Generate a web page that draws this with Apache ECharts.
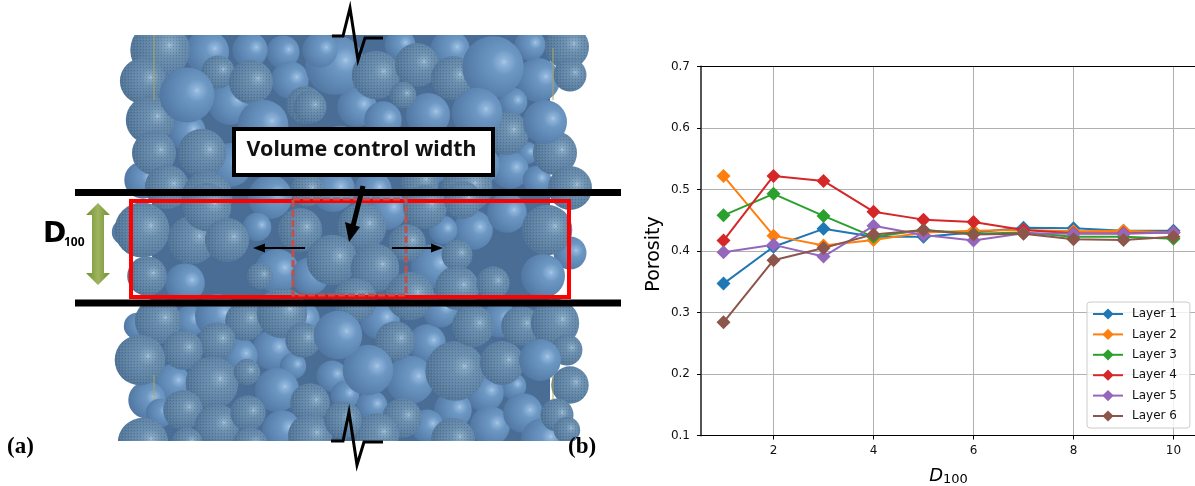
<!DOCTYPE html>
<html><head><meta charset="utf-8">
<style>html,body{margin:0;padding:0;background:#fff}#c{width:1195px;height:486px}</style>
<script src="https://cdn.jsdelivr.net/npm/echarts@6/dist/echarts.min.js"></script>
</head><body><div id="c"></div>
<script>
const dValues = [1,2,3,4,5,6,7,8,9,10];
const xTicks = [2,4,6,8,10];
const layer1 = [0.347,0.407,0.436,0.423,0.423,0.430,0.438,0.437,0.433,0.433];
const layer2 = [0.522,0.425,0.409,0.418,0.430,0.433,0.434,0.432,0.433,0.430];
const layer3 = [0.458,0.493,0.457,0.423,0.434,0.428,0.430,0.423,0.423,0.420];
const layer4 = [0.417,0.522,0.514,0.464,0.451,0.447,0.434,0.429,0.429,0.430];
const layer5 = [0.398,0.410,0.391,0.441,0.426,0.417,0.429,0.428,0.428,0.430];
const layer6 = [0.284,0.385,0.405,0.427,0.434,0.427,0.428,0.419,0.418,0.423];
const layerNames = ['Layer 1','Layer 2','Layer 3','Layer 4','Layer 5','Layer 6'];
const layerColors = ['#1f77b4','#ff7f0e','#2ca02c','#d62728','#9467bd','#8c564b'];
const layers = [layer1,layer2,layer3,layer4,layer5,layer6];

// illustration: spheres as [x, y, radius] in the picture's own units
const plainSpheres = [
[207,52,20],[283,52,15],[230,103,20],[290,80,17],[187,132,17],[143,180,17],
[270,197,20],[335,65,27],[450,50,18],[538,80,20],[357,107,18],[383,120,17],[428,115,20],
[513,102,13],[527,153,10],[510,170,17],[537,180,13],[333,190,20],[373,190,17],
[387,210,18],[473,230,18],[507,213,18],[443,230,13],[257,227,13],[277,271,20],[185,283,18],[310,276,17],
[433,266,20],[137,326,12],[190,321,14],[217,316,20],[272,350,18],[240,356,16],[172,383,17],
[293,366,12],[277,390,20],[147,400,17],[160,413,13],[282,430,18],[427,343,17],
[410,380,22],[513,386,12],[485,393,17],[332,376,14],[345,395,13],[372,406,14],[453,410,17],
[490,426,18],[523,413,18],[427,426,15],[543,440,20],[570,253,15],[125,232,12],[300,155,22],[340,150,22],
[390,150,20],[430,160,22],[230,165,20],[480,165,18],[300,320,18],[380,320,18],[440,310,16],[500,320,16],[320,50,16],[250,50,16],[400,45,14],[530,45,14]
];
const meshSpheres = [
[160,50,27],[143,81,21],[218,72,15],[251,82,20],[150,120,22],[154,153,20],[202,153,22],[305,105,17],
[167,187,20],[207,197,23],[307,190,15],[376,75,22],[417,65,20],[453,78,20],[567,47,20],[570,75,15],
[403,95,12],[310,107,15],[507,133,20],[555,153,20],[570,188,20],[467,187,23],[420,182,17],[362,227,22],
[425,207,20],[547,230,23],[463,200,17],[407,243,17],[142,230,25],[192,240,22],[207,207,22],[300,230,20],
[227,240,20],[147,276,18],[260,276,12],[332,260,23],[375,268,22],[457,255,14],[457,288,20],[493,283,15],
[410,296,22],[355,300,20],[158,321,21],[245,321,18],[282,313,23],[303,340,16],[217,341,17],[183,350,18],
[140,360,23],[212,383,24],[247,372,12],[183,410,18],[217,426,20],[248,413,16],[310,403,18],[143,443,23],
[187,443,14],[250,445,16],[395,341,18],[455,371,27],[473,326,19],[502,363,20],[521,326,18],[555,323,22],
[567,350,14],[570,385,17],[402,418,18],[557,415,15],[453,440,20],[377,435,20],[310,436,20],[567,430,12],[343,420,17]
];
const frontSpheres = [
[187,95,25],[493,67,28],[263,125,23],[477,113,23],[368,370,23],[338,335,22],[543,276,20],[545,122,20],[540,360,19]
];
const sphereGrow = 1.1;

const dots = document.createElement('canvas');
dots.width = 3; dots.height = 3;
(function(){
  const g = dots.getContext('2d');
  g.fillStyle = 'rgba(150,175,130,.3)'; g.fillRect(0,0,1,1);
  g.fillStyle = 'rgba(35,50,80,.25)'; g.fillRect(2,1,1,1);
})();

const plainFill = {type:'radial',x:.68,y:.42,r:.8,colorStops:[
  {offset:0,color:'#a8c8e6'},{offset:.07,color:'#8fb4da'},{offset:.25,color:'#6e98c4'},{offset:.6,color:'#5c85b1'},{offset:1,color:'#4b6f99'}]};
const meshFill = {type:'radial',x:.66,y:.42,r:.8,colorStops:[
  {offset:0,color:'#a8c4dc'},{offset:.07,color:'#86a8c6'},{offset:.25,color:'#6b90b2'},{offset:.6,color:'#5b80a4'},{offset:1,color:'#486a8e'}]};

function sphereSeries(data, mesh, z){
  return {type:'custom',xAxisIndex:1,yAxisIndex:1,z:z,silent:true,clip:false,data:data,legendHoverLink:false,
    encode:{x:0,y:1},
    renderItem:function(params,api){
      const c = api.coord([api.value(0),api.value(1)]);
      const r = api.size([api.value(2),0])[0]*sphereGrow;
      const kids = [{type:'circle',shape:{cx:c[0],cy:c[1],r:r},style:{fill:mesh?meshFill:plainFill}}];
      if(mesh) kids.push({type:'circle',shape:{cx:c[0],cy:c[1],r:r-1},style:{fill:{image:dots,repeat:'repeat'}}});
      return {type:'group',children:kids};
    }};
}

const ann = [
 {type:'rect',z:0,shape:{x:152,y:35,width:398,height:406},style:{fill:'#4a6d96'}},
 {type:'rect',z:5,shape:{x:90,y:0,width:540,height:35},style:{fill:'#fff'}},
 {type:'rect',z:5,shape:{x:90,y:441,width:540,height:45},style:{fill:'#fff'}},
 {type:'line',z:6,shape:{x1:154,y1:35,x2:154,y2:100},style:{stroke:'#a8a860',lineWidth:1}},
 {type:'line',z:6,shape:{x1:553,y1:48,x2:553,y2:100},style:{stroke:'#a8a860',lineWidth:1}},
 {type:'line',z:6,shape:{x1:154,y1:375,x2:154,y2:400},style:{stroke:'#a8a860',lineWidth:1}},
 {type:'line',z:6,shape:{x1:553,y1:375,x2:553,y2:400},style:{stroke:'#a8a860',lineWidth:1}},
 {type:'rect',z:7,shape:{x:75,y:189,width:546,height:7},style:{fill:'#000'}},
 {type:'rect',z:7,shape:{x:75,y:299.5,width:546,height:7},style:{fill:'#000'}},
 {type:'rect',z:8,shape:{x:131,y:201,width:438,height:96},style:{fill:'none',stroke:'#ff0000',lineWidth:4}},
 {type:'rect',z:9,shape:{x:293,y:199,width:113,height:96},style:{fill:'none',stroke:'#c0504d',lineWidth:3,lineDash:[7,3]}},
 {type:'rect',z:9,shape:{x:234,y:129,width:259,height:46},style:{fill:'#fff',stroke:'#000',lineWidth:4}},
 {type:'text',z:10,style:{x:361.5,y:150,text:'Volume control width',fill:'#111',font:'bold 21.4px "Noto Sans"',textAlign:'center',textVerticalAlign:'middle'}},
 {type:'line',z:10,shape:{x1:363,y1:186,x2:353,y2:226},style:{stroke:'#000',lineWidth:5}},
 {type:'polygon',z:10,shape:{points:[[345,222],[360,227],[349,242]]},style:{fill:'#000'}},
 {type:'line',z:10,shape:{x1:305,y1:248,x2:262,y2:248},style:{stroke:'#000',lineWidth:2}},
 {type:'polygon',z:10,shape:{points:[[253,248],[265,243.5],[265,252.5]]},style:{fill:'#000'}},
 {type:'line',z:10,shape:{x1:392,y1:248,x2:434,y2:248},style:{stroke:'#000',lineWidth:2}},
 {type:'polygon',z:10,shape:{points:[[443,248],[431,243.5],[431,252.5]]},style:{fill:'#000'}},
 {type:'polygon',z:10,shape:{points:[[98,203],[110,215],[104,215],[104,273],[110,273],[98,285],[86,273],[92,273],[92,215],[86,215]]},
  style:{fill:{type:'linear',x:0,y:0,x2:1,y2:0,colorStops:[{offset:0,color:'#6f8f2f'},{offset:.5,color:'#9fb45f'},{offset:1,color:'#6f8f2f'}]}}},
 {type:'text',z:10,style:{x:43,y:235,text:'D',fill:'#000',font:'bold 28px "DejaVu Sans"',textVerticalAlign:'middle'}},
 {type:'text',z:10,style:{x:64,y:243,text:'100',fill:'#000',font:'bold 12px "Noto Sans"',textVerticalAlign:'middle'}},
 {type:'polyline',z:10,shape:{points:[[332,36],[343,36],[350,8],[358,60],[365,38],[383,38]]},style:{fill:'none',stroke:'#000',lineWidth:3}},
 {type:'polyline',z:10,shape:{points:[[331,441],[343,441],[349,412],[357,465],[364,442],[383,442]]},style:{fill:'none',stroke:'#000',lineWidth:3}},
 {type:'text',z:10,style:{x:7,y:447,text:'(a)',fill:'#000',font:'bold 23px "Liberation Serif"',textVerticalAlign:'middle'}},
 {type:'text',z:10,style:{x:568,y:447,text:'(b)',fill:'#000',font:'bold 23px "Liberation Serif"',textVerticalAlign:'middle'}},
 {type:'line',z:6,shape:{x1:701,y1:66.5,x2:1195,y2:66.5},style:{stroke:'#000',lineWidth:1}}
];

const lineSeries = layers.map((vals,i)=>({
  type:'line',name:layerNames[i],xAxisIndex:0,yAxisIndex:0,z:3+i*0.01,
  data:vals.map((v,j)=>[dValues[j],v]),
  symbol:'diamond',symbolSize:14,showSymbol:true,
  lineStyle:{color:layerColors[i],width:2},itemStyle:{color:layerColors[i]},
  emphasis:{disabled:true}
}));

const chart = echarts.init(document.getElementById('c'),null,{renderer:'canvas'});
chart.setOption({
  animation:false,
  backgroundColor:'#fff',
  textStyle:{fontFamily:'DejaVu Sans'},
  grid:[
    {left:701,top:66.5,width:495,height:369,show:false,outerBoundsMode:'none'},
    {left:0,top:0,width:1195,height:486,show:false,outerBoundsMode:'none'}
  ],
  xAxis:[
    {type:'value',gridIndex:0,min:0.55,max:10.45,
     name:'{d|D}{s|100}',nameLocation:'middle',nameGap:31,
     nameTextStyle:{rich:{d:{fontFamily:'DejaVu Sans',fontStyle:'italic',fontSize:18,color:'#000'},s:{fontFamily:'DejaVu Sans',fontSize:13,color:'#000',padding:[7,0,0,0]}}},
     axisLine:{show:true,lineStyle:{color:'#000',width:1}},
     axisTick:{show:true,length:4,customValues:xTicks,lineStyle:{color:'#000'}},
     axisLabel:{customValues:xTicks,fontSize:12,color:'#111',margin:9,fontFamily:'DejaVu Sans'},
     splitLine:{show:true,lineStyle:{color:'#b0b0b0',width:1}}},
    {type:'value',gridIndex:1,min:0,max:1195,show:false,splitLine:{show:false}}
  ],
  yAxis:[
    {type:'value',gridIndex:0,min:0.1,max:0.7,interval:0.1,
     name:'Porosity',nameLocation:'middle',nameGap:37,nameRotate:90,
     nameTextStyle:{fontSize:19,color:'#000',fontFamily:'DejaVu Sans',padding:[0,6,0,0]},
     axisLine:{show:true,lineStyle:{color:'#555',width:2}},
     axisTick:{show:true,length:4,lineStyle:{color:'#000'}},
     axisLabel:{fontSize:12,color:'#111',margin:11,fontFamily:'DejaVu Sans',formatter:v=>v.toFixed(1)},
     splitLine:{show:true,lineStyle:{color:'#b0b0b0',width:1}}},
    {type:'value',gridIndex:1,min:0,max:486,inverse:true,show:false,splitLine:{show:false}}
  ],
  legend:{left:1087,top:302,orient:'vertical',data:layerNames,itemWidth:30,itemHeight:14,itemGap:8.4,
    padding:[6,13,6,5],borderColor:'#ccc',borderWidth:1,borderRadius:3,backgroundColor:'rgba(255,255,255,.8)',
    textStyle:{fontSize:12,color:'#111',fontFamily:'DejaVu Sans',padding:[0,0,0,4]},selectedMode:false},
  graphic:{elements:ann},
  series:[sphereSeries(plainSpheres,false,2),sphereSeries(meshSpheres,true,2.3),sphereSeries(frontSpheres,false,2.6)].concat(lineSeries)
});
</script></body></html>
